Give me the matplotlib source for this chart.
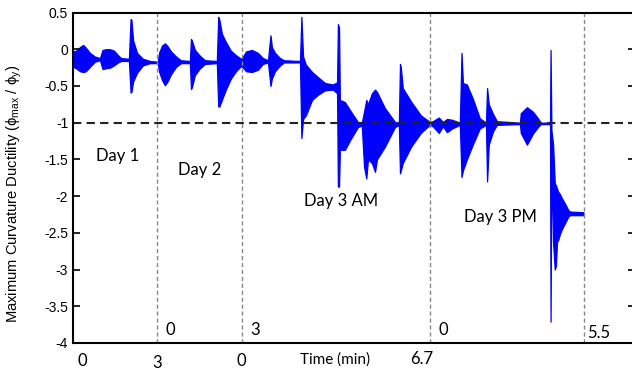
import numpy as np
import matplotlib
matplotlib.use("Agg")
import matplotlib.pyplot as plt

# envelope of the response signal: time (min, cumulative), upper and lower ductility
t = [0.01, 0.11, 0.25, 0.36, 0.46, 0.60, 0.78, 0.96, 1.05, 1.17, 1.32, 1.46, 1.60, 1.71,
     1.99, 2.05, 2.08, 2.14, 2.28, 2.49, 2.74, 3.02,
     3.06, 3.17, 3.27, 3.35, 3.49, 3.67, 3.84, 4.16, 4.20, 4.23, 4.34, 4.52, 4.70,
     5.12, 5.17, 5.21, 5.30, 5.44, 5.62, 5.80, 5.98,
     6.05, 6.16, 6.37, 6.58, 6.76, 6.94, 7.03, 7.08, 7.19, 7.37, 7.51, 8.08, 8.13,
     8.19, 8.29, 8.51, 8.72, 8.97, 9.25, 9.40, 9.43, 9.47, 9.50, 9.68, 9.86, 10.14,
     10.28, 10.36, 10.44, 10.50, 10.64, 10.75, 10.82, 11.10, 11.46, 11.60, 11.64,
     11.67, 11.74, 12.03, 12.38, 12.70,
     12.81, 13.02, 13.17, 13.31, 13.49, 13.77, 13.83, 13.88, 14.02, 14.23, 14.48,
     14.70, 14.74, 14.80, 14.95, 15.09, 15.91, 15.94, 16.16, 16.37, 16.55, 16.65,
     16.98, 17.00, 17.03, 17.09, 17.15, 17.19, 17.23, 17.27, 17.33, 17.39, 17.51,
     17.63, 17.69, 18.17]
hi = [-0.03, -0.02, 0.03, 0.06, 0.02, -0.05, -0.10, -0.12, -0.01, 0.00, 0.00, -0.02, -0.08, -0.12,
      -0.13, 0.41, 0.40, 0.12, -0.05, -0.13, -0.16, -0.17,
      -0.05, 0.05, 0.08, 0.05, -0.03, -0.10, -0.15, -0.16, 0.14, 0.12, -0.01, -0.09, -0.15,
      -0.16, 0.44, 0.40, 0.21, 0.10, -0.02, -0.08, -0.13,
      -0.10, -0.03, -0.01, -0.05, -0.12, -0.15, 0.19, 0.03, -0.05, -0.12, -0.15, -0.16, 0.44,
      -0.10, -0.21, -0.31, -0.38, -0.46, -0.48, -0.45, 0.34, 0.30, -0.69, -0.72, -0.83, -0.99,
      -1.00, -0.85, -0.69, -0.75, -0.60, -0.55, -0.58, -0.80, -0.99, -1.00, -0.20,
      -0.25, -0.53, -0.71, -0.90, -0.99,
      -0.98, -0.93, -0.99, -0.95, -0.96, -1.00, -0.05, -0.46, -0.48, -0.67, -0.94,
      -1.00, -0.53, -0.75, -0.88, -0.98, -1.00, -0.87, -0.79, -0.85, -0.94, -1.00,
      -1.00, -0.01, -1.10, -1.30, -1.83, -1.85, -1.90, -1.94, -1.97, -2.02, -2.10,
      -2.19, -2.21, -2.22]
lo = [-0.24, -0.26, -0.30, -0.31, -0.30, -0.24, -0.17, -0.15, -0.27, -0.26, -0.25, -0.22, -0.18, -0.16,
      -0.16, -0.59, -0.58, -0.44, -0.32, -0.22, -0.19, -0.19,
      -0.30, -0.42, -0.49, -0.45, -0.34, -0.24, -0.19, -0.19, -0.54, -0.52, -0.35, -0.26, -0.20,
      -0.19, -0.78, -0.78, -0.69, -0.55, -0.40, -0.30, -0.23,
      -0.25, -0.30, -0.31, -0.28, -0.20, -0.18, -0.50, -0.40, -0.30, -0.22, -0.18, -0.18, -1.21,
      -0.95, -0.90, -0.69, -0.62, -0.56, -0.55, -0.60, -1.87, -1.87, -1.37, -1.37, -1.24, -1.06,
      -1.04, -1.60, -1.76, -1.50, -1.55, -1.67, -1.50, -1.33, -1.06, -1.03, -1.69,
      -1.65, -1.55, -1.33, -1.14, -1.03,
      -1.05, -1.14, -1.05, -1.13, -1.08, -1.03, -1.74, -1.65, -1.50, -1.30, -1.08,
      -1.03, -1.80, -1.30, -1.12, -1.03, -1.02, -1.14, -1.30, -1.15, -1.06, -1.02,
      -1.02, -3.71, -1.50, -2.64, -3.00, -2.95, -2.62, -2.60, -2.52, -2.46, -2.37,
      -2.28, -2.26, -2.26]

day_names = ["Day 1", "Day 2", "Day 3 AM", "Day 3 PM"]
day_lengths = [3, 3, 6.7, 5.5]
bounds = np.cumsum(day_lengths)

fig = plt.figure(figsize=(6.32, 3.68), dpi=100)
ax = fig.add_axes([0.1155, 0.068, 0.889, 0.898])

ax.fill_between(t, lo, hi, color='blue', lw=0.9)
ax.axhline(-1, color='#222222', ls=(0, (4, 2.5)), lw=1.5)
for b in bounds:
    ax.axvline(b, color='#888888', ls=(0, (3, 2)), lw=1.0)

ax.set_xlim(0, 20)
ax.set_ylim(-4, 0.5)
ax.set_yticks(np.arange(-4, 0.51, 0.5))
ax.set_yticklabels(['-4', '-3.5', '-3', '-2.5', '-2', '-1.5', '-1', '-0.5', '0', '0.5'])
ax.set_xticks([])
ax.tick_params(axis='y', direction='in', length=5, right=True, labelsize=10, width=1.2)
for s in ax.spines.values():
    s.set_linewidth(1.5)
for lab in ax.get_yticklabels():
    lab.set_family('Liberation Sans')

ax.set_ylabel('Maximum Curvature Ductility (\u03d5$_{\\mathregular{max}}$ / \u03d5$_{\\mathregular{y}}$)',
              family='Liberation Sans', fontsize=10.6)
ax.yaxis.set_label_coords(-0.088, 0.45)

af = dict(family='Lato', fontsize=12)
starts = np.concatenate([[0], bounds[:-1]])
# day names
ax.text(1.60, -1.45, day_names[0], ha='center', va='center', **af)
ax.text(4.52, -1.645, day_names[1], ha='center', va='center', **af)
ax.text(9.54, -2.07, day_names[2], ha='center', va='center', **af)
ax.text(15.2, -2.28, day_names[3], ha='center', va='center', **af)

# start/end labels of each day
ax.text(starts[0] + 0.32, -4.24, '0', ha='center', va='center', clip_on=False, **af)
ax.text(bounds[0], -4.27, '3', ha='center', va='center', clip_on=False, **af)
ax.text(bounds[1], -4.24, '0', ha='center', va='center', clip_on=False, **af)
ax.text(bounds[2] - 0.28, -4.22, '6.7', ha='center', va='center', clip_on=False, **af)
ax.text(9.33, -4.22, 'Time (min)', ha='center', va='center', clip_on=False,
        family='Lato', fontsize=11)
ax.text(bounds[0] + 0.3, -3.83, '0', ha='left', va='center', **af)
ax.text(bounds[1] + 0.3, -3.83, '3', ha='left', va='center', **af)
ax.text(bounds[2] + 0.3, -3.82, '0', ha='left', va='center', **af)
ax.text(bounds[3] + 0.1, -3.86, '5.5', ha='left', va='center', **af)

fig.savefig('out.png', dpi=100)
